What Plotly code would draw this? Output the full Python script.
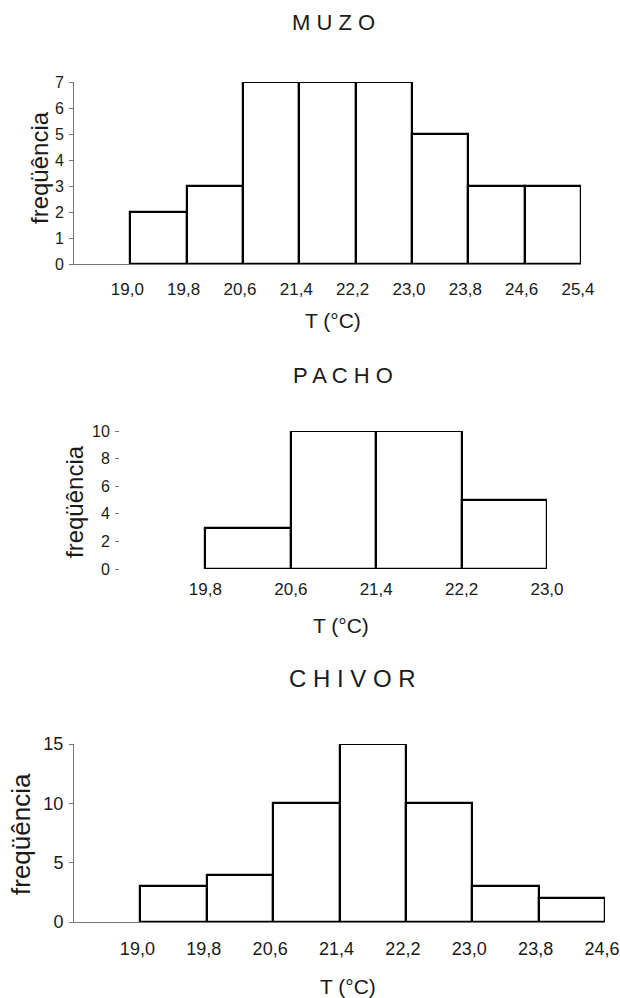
import plotly.graph_objects as go

# ---------------- data ----------------
muzo_edges = [19.0, 19.8, 20.6, 21.4, 22.2, 23.0, 23.8, 24.6, 25.4]
muzo_counts = [2, 3, 7, 7, 7, 5, 3, 3]
muzo_ticklabels = ["19,0", "19,8", "20,6", "21,4", "22,2", "23,0", "23,8", "24,6", "25,4"]
muzo_yticks = [0, 1, 2, 3, 4, 5, 6, 7]

pacho_edges = [19.8, 20.6, 21.4, 22.2, 23.0]
pacho_counts = [3, 10, 10, 5]
pacho_ticklabels = ["19,8", "20,6", "21,4", "22,2", "23,0"]
pacho_yticks = [0, 2, 4, 6, 8, 10]

chivor_edges = [19.0, 19.8, 20.6, 21.4, 22.2, 23.0, 23.8, 24.6]
chivor_counts = [3, 4, 10, 15, 10, 3, 2]
chivor_ticklabels = ["19,0", "19,8", "20,6", "21,4", "22,2", "23,0", "23,8", "24,6"]
chivor_yticks = [0, 5, 10, 15]

titles = ["M U Z O", "P A C H O", "C H I V O R"]
ylabel = "freqüência"
xlabel = "T (°C)"

# ---------------- layout helpers ----------------
W, H = 620, 998
FONT = "Liberation Sans, Arial, Helvetica, sans-serif"
INK = "#1a1a1a"


def px(x):
    return x / W


def py(y):
    return 1 - y / H


def centers(edges):
    return [(edges[i] + edges[i + 1]) / 2 for i in range(len(edges) - 1)]


def widths(edges):
    return [edges[i + 1] - edges[i] for i in range(len(edges) - 1)]


fig = go.Figure()

panels = [
    dict(edges=muzo_edges, counts=muzo_counts, labels=muzo_ticklabels, yticks=muzo_yticks,
         xr=[18.2, 25.4], yr=[0, 7], xdom=[74, 581], ydom=[264, 82], showline=True,
         xfs=17, yfs=16, xso=10, xsh=-3),
    dict(edges=pacho_edges, counts=pacho_counts, labels=pacho_ticklabels, yticks=pacho_yticks,
         xr=[19.0, 23.0], yr=[0, 10], xdom=[120, 547], ydom=[569, 431], showline=False,
         xfs=17, yfs=16, xso=8, xsh=0),
    dict(edges=chivor_edges, counts=chivor_counts, labels=chivor_ticklabels, yticks=chivor_yticks,
         xr=[18.2, 24.6], yr=[0, 15], xdom=[74, 605], ydom=[922, 744], showline=True,
         xfs=18, yfs=18, xso=10, xsh=-3),
]

for i, p in enumerate(panels):
    n = "" if i == 0 else str(i + 1)
    fig.add_trace(go.Bar(
        x=centers(p["edges"]), y=p["counts"], width=widths(p["edges"]),
        marker=dict(color="white", line=dict(color="black", width=2.2)),
        xaxis="x" + n, yaxis="y" + n, cliponaxis=False, showlegend=False,
        hoverinfo="x+y",
    ))
    fig.layout["xaxis" + n] = dict(
        domain=[px(p["xdom"][0]), px(p["xdom"][1])], range=p["xr"], anchor="y" + n,
        tickmode="array", tickvals=p["edges"], ticktext=p["labels"],
        ticks="", showgrid=False, zeroline=False, automargin=False,
        showline=p["showline"], linecolor="#777", linewidth=1,
        tickfont=dict(family=FONT, size=p["xfs"], color=INK),
        ticklabelstandoff=p["xso"], ticklabelshift=p["xsh"], ticklabeloverflow="allow",
    )
    fig.layout["yaxis" + n] = dict(
        domain=[py(p["ydom"][0]), py(p["ydom"][1])], range=p["yr"], anchor="x" + n,
        tickmode="array", tickvals=p["yticks"], automargin=False,
        ticks="outside", ticklen=4, tickcolor="#777", tickwidth=1,
        showgrid=False, zeroline=False,
        showline=p["showline"], linecolor="#777", linewidth=1,
        tickfont=dict(family=FONT, size=p["yfs"], color=INK), ticklabelstandoff=2,
        ticklabeloverflow="allow",
    )

ann = []
title_pos = [(333, 23, 22), (343, 375, 22), (352, 678, 24)]
for t, (x, y, s) in zip(titles, title_pos):
    ann.append(dict(text=t, x=px(x), y=py(y), xref="paper", yref="paper",
                    xanchor="center", yanchor="middle", showarrow=False,
                    font=dict(family=FONT, size=s, color=INK)))
xt_pos = [(333, 321), (341, 625), (348, 986)]
for x, y in xt_pos:
    ann.append(dict(text=xlabel, x=px(x), y=py(y), xref="paper", yref="paper",
                    xanchor="center", yanchor="middle", showarrow=False,
                    font=dict(family=FONT, size=21, color=INK)))
yt_pos = [(39, 167, 24), (75, 502, 24), (21, 834, 26)]
for x, y, s in yt_pos:
    ann.append(dict(text=ylabel, x=px(x), y=py(y), xref="paper", yref="paper",
                    xanchor="center", yanchor="middle", showarrow=False, textangle=-90,
                    font=dict(family=FONT, size=s, color=INK)))

fig.update_layout(
    template="none",
    width=W, height=H, margin=dict(l=0, r=0, t=0, b=0, autoexpand=False),
    paper_bgcolor="white", plot_bgcolor="white",
    annotations=ann, bargap=0, showlegend=False,
)

fig.write_html("out.html")
